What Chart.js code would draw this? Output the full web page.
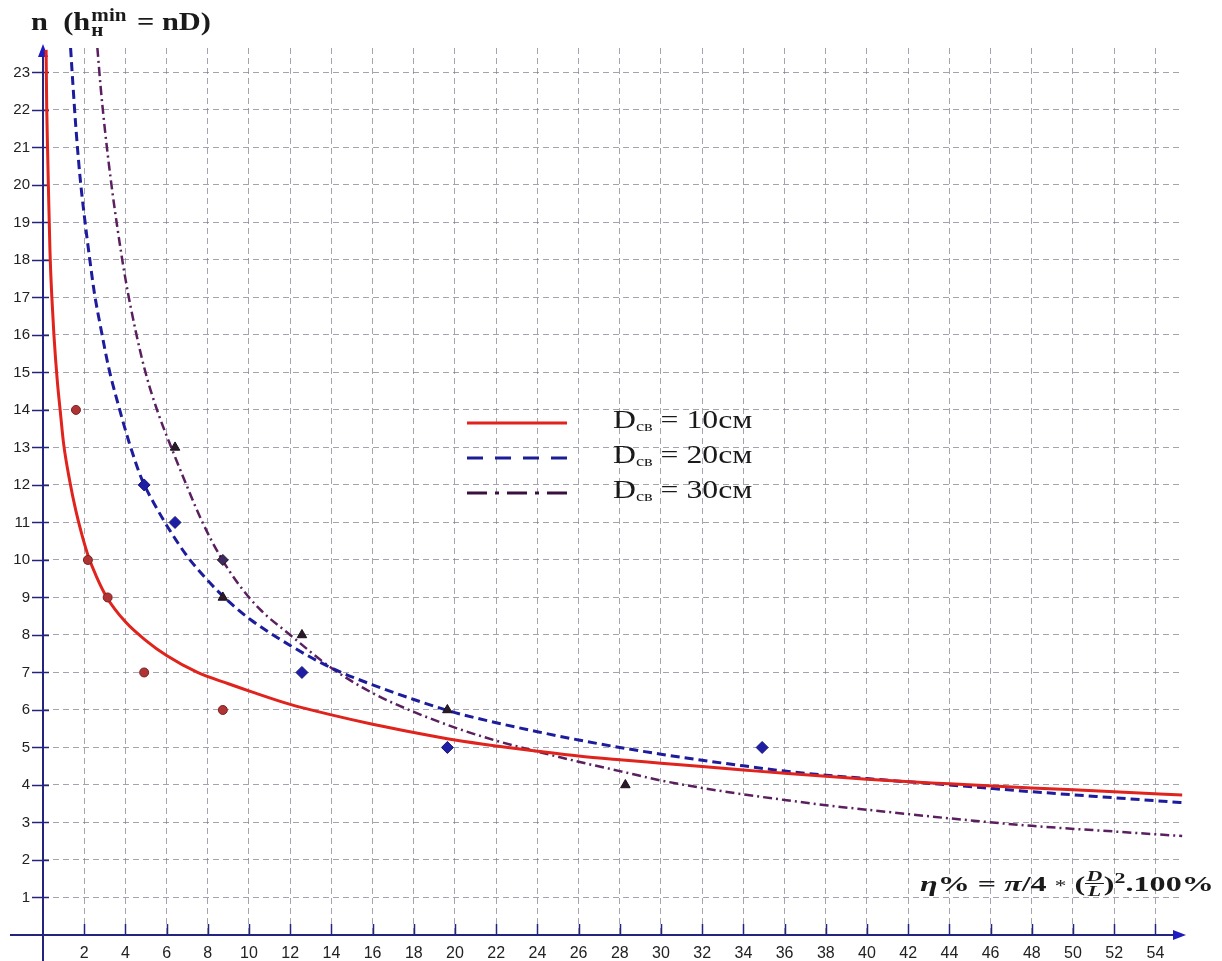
<!DOCTYPE html>
<html>
<head>
<meta charset="utf-8">
<title>n vs eta</title>
<script src="https://cdn.jsdelivr.net/npm/chart.js@4.4.1/dist/chart.umd.min.js"></script>
<style>
  body { margin: 0; background: #fff; overflow: hidden; }
  #wrap { position: relative; width: 1222px; height: 961px; }
  #c { position: absolute; left: 0; top: 0; }
  .serif { font-family: "Liberation Serif", "Times New Roman", serif; color: #1a1a1a; white-space: nowrap; }
  #title { position: absolute; left: 31px; top: 7px; font-size: 26px; font-weight: bold; line-height: 30px;
           transform-origin: 0 0; transform: scaleX(1.17); }
  #title .ss { display: inline-block; vertical-align: -6px; font-size: 18px; line-height: 15px; margin: 0 9px 0 1px; }
  #title .ss span { display: block; }
  #formula { position: absolute; left: 920px; top: 863px; font-size: 22px; font-weight: bold; line-height: 30px;
             transform-origin: 0 0; transform: scaleX(1.46); }
  #formula .ast { font-weight: normal; font-size: 16px; }
  #formula .fr { display: inline-block; vertical-align: -5px; font-size: 15px; line-height: 14px; text-align: center; }
  #formula .fr span { display: block; padding: 0 1px; }
  #formula .fr span:first-child { border-bottom: 1px solid #1a1a1a; }
  #legend { position: absolute; left: 467px; top: 405px; }
  .row { position: relative; height: 35px; }
  .row svg { position: absolute; left: 0; top: 13px; }
  .row .lab { position: absolute; left: 146px; top: 0; font-size: 26px; line-height: 30px;
              transform-origin: 0 0; transform: scaleX(1.22); }
  .row .lab sub { font-size: 15px; vertical-align: -3px; }
</style>
</head>
<body>
<div id="wrap">
  <canvas id="c" width="1222" height="961"></canvas>
  <div id="title" class="serif">n&nbsp; (h<span class="ss"><span>min</span><span>н</span></span>= nD)</div>
  <div id="formula" class="serif"><i>η</i>% = <i>π</i>/4 <span class="ast">*</span> (<span class="fr"><span><i>D</i></span><span><i>L</i></span></span>)<sup style="font-size:15px">2</sup>.100%</div>
  <div id="legend">
    <div class="row">
      <svg width="100" height="10"><line x1="0" y1="5" x2="100" y2="5" stroke="#e0231c" stroke-width="3"/></svg>
      <div class="lab serif">D<sub>св</sub> = 10см</div>
    </div>
    <div class="row">
      <svg width="100" height="10"><line x1="0" y1="5" x2="100" y2="5" stroke="#1c1c96" stroke-width="3" stroke-dasharray="16 12"/></svg>
      <div class="lab serif">D<sub>св</sub> = 20см</div>
    </div>
    <div class="row">
      <svg width="100" height="10"><line x1="0" y1="5" x2="100" y2="5" stroke="#3a1040" stroke-width="3" stroke-dasharray="20 8 4 8"/></svg>
      <div class="lab serif">D<sub>св</sub> = 30см</div>
    </div>
  </div>
</div>
<script>
// axis ranges / ticks
var xMax = 55.34, yMax = 23.65;
var xStep = 2, yStep = 1;

// fitted curve, D = 10 cm
var red10X = [0.15, 0.18, 0.22, 0.26, 0.34, 0.43, 0.53, 0.69, 0.85, 1.0, 1.3, 1.6, 1.9, 2.2, 2.6, 3.1, 4, 5, 6, 7.5, 9, 10.1, 12, 14, 16, 18, 20, 22, 24, 26, 28, 30, 32, 34, 36, 40, 44, 48, 52, 55.3];
var red10Y = [23.6, 22.1, 21, 20, 18.2, 17, 16, 14.8, 13.9, 13.1, 12.1, 11.3, 10.65, 10.1, 9.55, 9.0, 8.35, 7.85, 7.45, 7.0, 6.7, 6.49, 6.15, 5.87, 5.62, 5.4, 5.2, 5.04, 4.9, 4.77, 4.67, 4.58, 4.49, 4.4, 4.31, 4.15, 4.03, 3.92, 3.82, 3.73];

// fitted curve, D = 20 cm
var blue20X = [1.34, 1.45, 1.6, 1.8, 2.0, 2.25, 2.5, 2.8, 3.2, 3.6, 4.2, 4.8, 5.5, 6.2, 7, 8, 9, 10.1, 12, 14, 16, 18, 20, 22, 24, 26, 28, 30, 32, 34, 36, 40, 44, 48, 52, 55.3];
var blue20Y = [23.65, 22.7, 21.5, 20.2, 19.2, 18.1, 17.1, 16.2, 15.1, 14.25, 13.1, 12.15, 11.4, 10.75, 10.1, 9.45, 8.9, 8.4, 7.72, 7.12, 6.67, 6.28, 5.93, 5.66, 5.42, 5.2, 5.0, 4.82, 4.66, 4.51, 4.37, 4.17, 4.0, 3.82, 3.66, 3.53];

// fitted curve, D = 30 cm
var purp30X = [2.64, 2.8, 3.0, 3.3, 3.6, 4.0, 4.5, 5.0, 5.6, 6.3, 7.0, 7.7, 8.6, 9.5, 10.5, 12, 14, 16, 18, 20, 22, 24, 26, 28, 30, 32, 34, 36, 38, 40, 44, 48, 52, 55.3];
var purp30Y = [23.65, 22.6, 21.5, 20.1, 18.9, 17.5, 16.1, 14.95, 13.9, 12.9, 11.95, 11.05, 10.1, 9.35, 8.7, 8.0, 7.12, 6.45, 5.95, 5.53, 5.18, 4.89, 4.62, 4.37, 4.12, 3.92, 3.75, 3.6, 3.46, 3.34, 3.11, 2.91, 2.76, 2.64];

// measured points
var red10PtX = [1.6, 2.18, 3.14, 4.91, 8.73];
var red10PtY = [14, 10, 9, 7, 6];
var blue20PtX = [4.91, 6.41, 12.57, 19.63, 34.91];
var blue20PtY = [12, 11, 7, 5, 5];
var purp30PtX = [6.41, 8.73, 8.73, 12.57, 19.63, 28.27];
var purp30PtY = [13, 10, 9, 8, 6, 4];

function pts(xs, ys) {
    return xs.map(function (v, i) { return { x: v, y: ys[i] }; });
}

var axisColor = "#24247e";
var arrowColor = "#1e1ec0";
var gridColor = "rgba(125, 125, 140, 0.7)";

// axes drawn by hand: crossing tick marks and arrow heads
var axesPlugin = {
    id: "axes",
    beforeDatasetsDraw: function (chart) {
        var ctx = chart.ctx, a = chart.chartArea;
        var sx = chart.scales.x, sy = chart.scales.y;
        var x0 = sx.getPixelForValue(0), y0 = sy.getPixelForValue(0);
        ctx.save();
        ctx.strokeStyle = axisColor;
        ctx.lineWidth = 2;
        ctx.beginPath();
        ctx.moveTo(10, y0); ctx.lineTo(a.right - 4, y0);
        ctx.moveTo(x0, chart.height); ctx.lineTo(x0, a.top + 4);
        ctx.stroke();
        ctx.lineWidth = 1.5;
        ctx.beginPath();
        sy.ticks.forEach(function (t) {
            if (t.value <= 0) return;
            var p = Math.round(sy.getPixelForValue(t.value)) + 0.5;
            ctx.moveTo(x0 - 11, p); ctx.lineTo(x0 + 6, p);
        });
        sx.ticks.forEach(function (t) {
            if (t.value <= 0) return;
            var p = Math.round(sx.getPixelForValue(t.value)) + 0.5;
            ctx.moveTo(p, y0 - 11); ctx.lineTo(p, y0);
        });
        ctx.stroke();
        ctx.fillStyle = arrowColor;
        ctx.beginPath();
        ctx.moveTo(x0, a.top - 4); ctx.lineTo(x0 - 5, a.top + 9); ctx.lineTo(x0 + 5, a.top + 9);
        ctx.closePath();
        ctx.moveTo(a.right + 3, y0); ctx.lineTo(a.right - 10, y0 - 5); ctx.lineTo(a.right - 10, y0 + 5);
        ctx.closePath();
        ctx.fill();
        ctx.restore();
    }
};

Chart.defaults.font.family = "'Liberation Sans', Arial, sans-serif";

var lineBase = { showLine: true, pointRadius: 0, fill: false, cubicInterpolationMode: "monotone" };

new Chart(document.getElementById("c"), {
    type: "scatter",
    data: {
        datasets: [
            {
                label: "D20 points",
                data: pts(blue20PtX, blue20PtY),
                pointStyle: "rectRot",
                pointRadius: 6,
                backgroundColor: "#1f1fa6",
                borderColor: "#16167a",
                borderWidth: 1
            },
            {
                label: "D30 points",
                data: pts(purp30PtX, purp30PtY),
                pointStyle: function (c) { return c.dataIndex === 1 ? "rectRot" : "triangle"; },
                pointRadius: 5.5,
                backgroundColor: function (c) { return c.dataIndex === 1 ? "#3e2a5e" : "#2a1a2a"; },
                borderColor: "#1a101a",
                borderWidth: 1
            },
            {
                label: "D10 points",
                data: pts(red10PtX, red10PtY),
                pointStyle: "circle",
                pointRadius: 4.5,
                backgroundColor: "#b03434",
                borderColor: "#7a2222",
                borderWidth: 1
            },
            Object.assign({}, lineBase, {
                label: "D = 10",
                data: pts(red10X, red10Y),
                borderColor: "#e0231c",
                borderWidth: 3
            }),
            Object.assign({}, lineBase, {
                label: "D = 20",
                data: pts(blue20X, blue20Y),
                borderColor: "#1c1c9c",
                borderWidth: 3,
                borderDash: [9, 5]
            }),
            Object.assign({}, lineBase, {
                label: "D = 30",
                data: pts(purp30X, purp30Y),
                borderColor: "#5a1f5e",
                borderWidth: 2.5,
                borderDash: [9, 4, 2, 4]
            })
        ]
    },
    options: {
        responsive: false,
        animation: false,
        devicePixelRatio: 1,
        layout: { padding: { left: 0, right: 39, top: 48, bottom: 0 } },
        plugins: { legend: { display: false }, tooltip: { enabled: false } },
        scales: {
            x: {
                type: "linear",
                min: 0,
                max: xMax,
                afterFit: function (s) { s.height = 26; },
                ticks: {
                    stepSize: xStep,
                    includeBounds: false,
                    autoSkip: false,
                    maxRotation: 0,
                    padding: 9,
                    color: "#222",
                    font: { size: 16 },
                    callback: function (v) { return v === 0 ? "" : v; }
                },
                grid: { color: gridColor, lineWidth: 1, drawTicks: false },
                border: { display: false, dash: [6, 4] }
            },
            y: {
                type: "linear",
                min: 0,
                max: yMax,
                afterFit: function (s) { s.width = 43; },
                ticks: {
                    stepSize: yStep,
                    includeBounds: false,
                    autoSkip: false,
                    padding: 13,
                    color: "#222",
                    font: { size: 15 },
                    callback: function (v) { return v === 0 ? "" : v; }
                },
                grid: { color: gridColor, lineWidth: 1, drawTicks: false },
                border: { display: false, dash: [6, 4] }
            }
        }
    },
    plugins: [axesPlugin]
});
</script>
</body>
</html>
